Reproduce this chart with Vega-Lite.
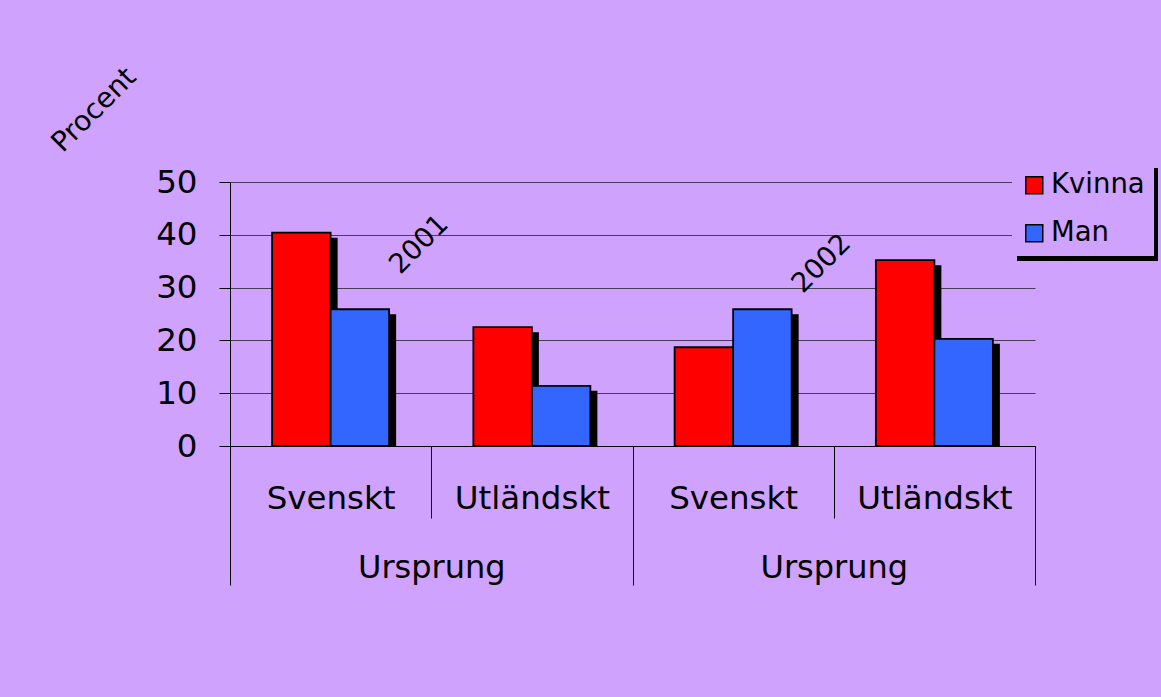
{
  "$schema": "https://vega.github.io/schema/vega-lite/v6.json",
  "width": 805,
  "height": 264,
  "autosize": {"type": "none"},
  "padding": {"left": 230, "top": 182, "right": 126, "bottom": 251},
  "background": "#cea2fd",
  "config": {
    "view": {"stroke": null},
    "font": "DejaVu Sans",
    "axis": {"labelFont": "DejaVu Sans", "titleFont": "DejaVu Sans", "labelColor": "black", "titleColor": "black"},
    "legend": {"labelFont": "DejaVu Sans"}
  },
  "resolve": {"scale": {"x": "independent"}},
  "layer": [
    {
      "data": {
        "values": [
          {"year": "2001", "ursprung": "Svenskt", "cat": "2001 Svenskt", "kon": "Kvinna", "procent": 40.4},
          {"year": "2001", "ursprung": "Svenskt", "cat": "2001 Svenskt", "kon": "Man", "procent": 25.9},
          {"year": "2001", "ursprung": "Utländskt", "cat": "2001 Utländskt", "kon": "Kvinna", "procent": 22.5},
          {"year": "2001", "ursprung": "Utländskt", "cat": "2001 Utländskt", "kon": "Man", "procent": 11.4},
          {"year": "2002", "ursprung": "Svenskt", "cat": "2002 Svenskt", "kon": "Kvinna", "procent": 18.7},
          {"year": "2002", "ursprung": "Svenskt", "cat": "2002 Svenskt", "kon": "Man", "procent": 25.9},
          {"year": "2002", "ursprung": "Utländskt", "cat": "2002 Utländskt", "kon": "Kvinna", "procent": 35.2},
          {"year": "2002", "ursprung": "Utländskt", "cat": "2002 Utländskt", "kon": "Man", "procent": 20.3}
        ]
      },
      "resolve": {"scale": {"fill": "independent", "xOffset": "independent"}},
      "layer": [
        {
          "mark": {"type": "bar", "yOffset": 5, "strokeWidth": 0, "clip": true},
          "encoding": {
            "x": {"field": "cat", "type": "nominal", "scale": {"paddingInner": 0, "paddingOuter": 0}},
            "xOffset": {"field": "kon", "type": "nominal", "scale": {"paddingInner": 0, "paddingOuter": 0.72, "range": [7, 208.25]}},
            "y": {"field": "procent", "type": "quantitative", "scale": {"domain": [0, 50], "nice": false}},
            "fill": {
              "field": "kon", "type": "nominal",
              "scale": {"domain": ["Kvinna", "Man"], "range": ["black", "black"]},
              "legend": {
                "orient": "none", "legendX": 787, "legendY": -14, "title": null,
                "fillColor": "black", "strokeColor": null, "padding": 8.5, "rowPadding": 19,
                "symbolType": "square", "symbolSize": 289, "symbolStrokeColor": "black", "symbolStrokeWidth": 1.5,
                "labelFontSize": 27.5, "labelOffset": 96, "labelColor": "black",
                "labelExpr": "''"
              }
            }
          }
        },
        {
          "mark": {"type": "bar", "stroke": "black", "strokeWidth": 1.8},
          "encoding": {
            "x": {
              "field": "cat", "type": "nominal", "scale": {"paddingInner": 0, "paddingOuter": 0},
              "axis": {
                "orient": "bottom", "title": null, "domain": true, "domainColor": "black", "domainWidth": 1,
                "tickBand": "extent", "tickSize": 72, "tickColor": "black", "tickWidth": 1,
                "labelFontSize": 32.5, "labelBaseline": "middle", "labelAlign": "center", "labelPadding": -20, "labelAngle": 0,
                "labelExpr": "datum.label == '' ? '' : split(datum.label, ' ')[1]", "grid": false
              }
            },
            "xOffset": {"field": "kon", "type": "nominal", "scale": {"paddingInner": 0, "paddingOuter": 0.72}},
            "y": {
              "field": "procent", "type": "quantitative", "scale": {"domain": [0, 50], "nice": false},
              "axis": {
                "values": [0, 10, 20, 30, 40, 50], "title": "Procent", "titleAngle": -45,
                "titleX": -136, "titleY": -72, "titleAlign": "center", "titleBaseline": "middle",
                "titleFontSize": 28, "titleFontWeight": "normal",
                "labelFontSize": 32.5, "labelPadding": 22, "tickSize": 11, "tickColor": "black",
                "domainColor": "black", "grid": true, "gridColor": "#4b3b5b", "gridWidth": 1
              }
            },
            "fill": {
              "field": "kon", "type": "nominal",
              "scale": {"domain": ["Kvinna", "Man"], "range": ["#ff0000", "#3366ff"]},
              "legend": {
                "orient": "none", "legendX": 782, "legendY": -19, "title": null,
                "fillColor": "#cea2fd", "strokeColor": null, "padding": 8.5, "rowPadding": 19,
                "symbolType": "square", "symbolSize": 289, "symbolStrokeColor": "black", "symbolStrokeWidth": 1.5,
                "labelFontSize": 27.5, "labelOffset": 3, "labelColor": "black"
              }
            }
          }
        }
      ]
    },
    {
      "layer": [
        {
          "data": {"values": [{"year": "2001"}]},
          "mark": {"type": "text", "angle": -45, "fontSize": 27.5, "dx": -8.5, "dy": -8.5, "align": "center", "baseline": "middle", "font": "DejaVu Sans", "color": "black"},
          "encoding": {
            "x": {
              "field": "year", "type": "nominal", "scale": {"domain": ["2001", "2002"], "paddingInner": 0, "paddingOuter": 0},
              "axis": {
                "orient": "bottom", "title": null, "domain": false, "tickBand": "extent", "tickSize": 139,
                "tickColor": "black", "tickWidth": 1, "labelExpr": "datum.label == '' ? '' : 'Ursprung'", "labelFontSize": 32,
                "labelBaseline": "middle", "labelAlign": "center", "labelPadding": -18, "labelAngle": 0, "grid": false
              }
            },
            "y": {"datum": 38.1, "type": "quantitative"},
            "text": {"field": "year"}
          }
        },
        {
          "data": {"values": [{"year": "2002"}]},
          "mark": {"type": "text", "angle": -45, "fontSize": 27.5, "dx": -8.5, "dy": -8.5, "align": "center", "baseline": "middle", "font": "DejaVu Sans", "color": "black"},
          "encoding": {
            "x": {"field": "year", "type": "nominal", "scale": {"domain": ["2001", "2002"], "paddingInner": 0, "paddingOuter": 0}},
            "y": {"datum": 34.5, "type": "quantitative"},
            "text": {"field": "year"}
          }
        }
      ]
    }
  ]
}
